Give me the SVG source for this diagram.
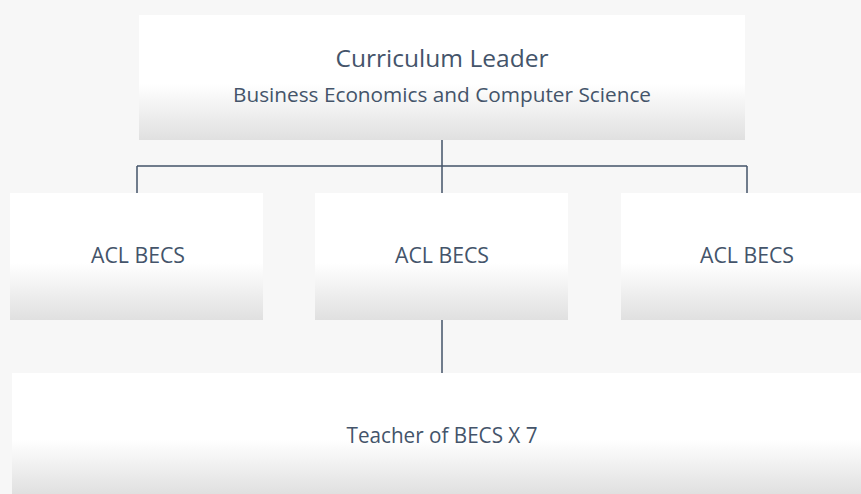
<svg xmlns="http://www.w3.org/2000/svg" width="861" height="494" viewBox="0 0 861 494">
<defs>
<linearGradient id="g" x1="0" y1="0" x2="0" y2="1">
<stop offset="0" stop-color="#ffffff"/>
<stop offset="0.55" stop-color="#ffffff"/>
<stop offset="1" stop-color="#e0e0e0"/>
</linearGradient>
<style>
.box{fill:url(#g);}
.t{font-family:"Open Sans","Liberation Sans",sans-serif;fill:#44546a;text-anchor:middle;}
.c{stroke:#44546a;stroke-width:1.5;fill:none;}
</style>
</defs>
<rect width="861" height="494" fill="#f7f7f7"/>
<g id="connectors">
<path class="c" d="M442 140V166M137 166H747M137 166V193M442 166V193M747 166V193M442 320V373"/>
</g>
<g id="leader">
<rect class="box" x="139" y="15" width="606" height="125"/>
<text class="t" x="442" y="67" font-size="24" textLength="213" lengthAdjust="spacingAndGlyphs">Curriculum Leader</text>
<text class="t" x="442" y="102" font-size="20.5" textLength="418" lengthAdjust="spacingAndGlyphs">Business Economics and Computer Science</text>
</g>
<g id="acl1">
<rect class="box" x="10" y="193" width="253" height="127"/>
<text class="t" x="138" y="263" font-size="21" textLength="94" lengthAdjust="spacingAndGlyphs">ACL BECS</text>
</g>
<g id="acl2">
<rect class="box" x="315" y="193" width="253" height="127"/>
<text class="t" x="442" y="263" font-size="21" textLength="94" lengthAdjust="spacingAndGlyphs">ACL BECS</text>
</g>
<g id="acl3">
<rect class="box" x="621" y="193" width="240" height="127"/>
<text class="t" x="747" y="263" font-size="21" textLength="94" lengthAdjust="spacingAndGlyphs">ACL BECS</text>
</g>
<g id="teacher">
<rect class="box" x="12" y="373" width="849" height="121"/>
<text class="t" x="442" y="443" font-size="22" textLength="191" lengthAdjust="spacingAndGlyphs">Teacher of BECS X 7</text>
</g>
</svg>
